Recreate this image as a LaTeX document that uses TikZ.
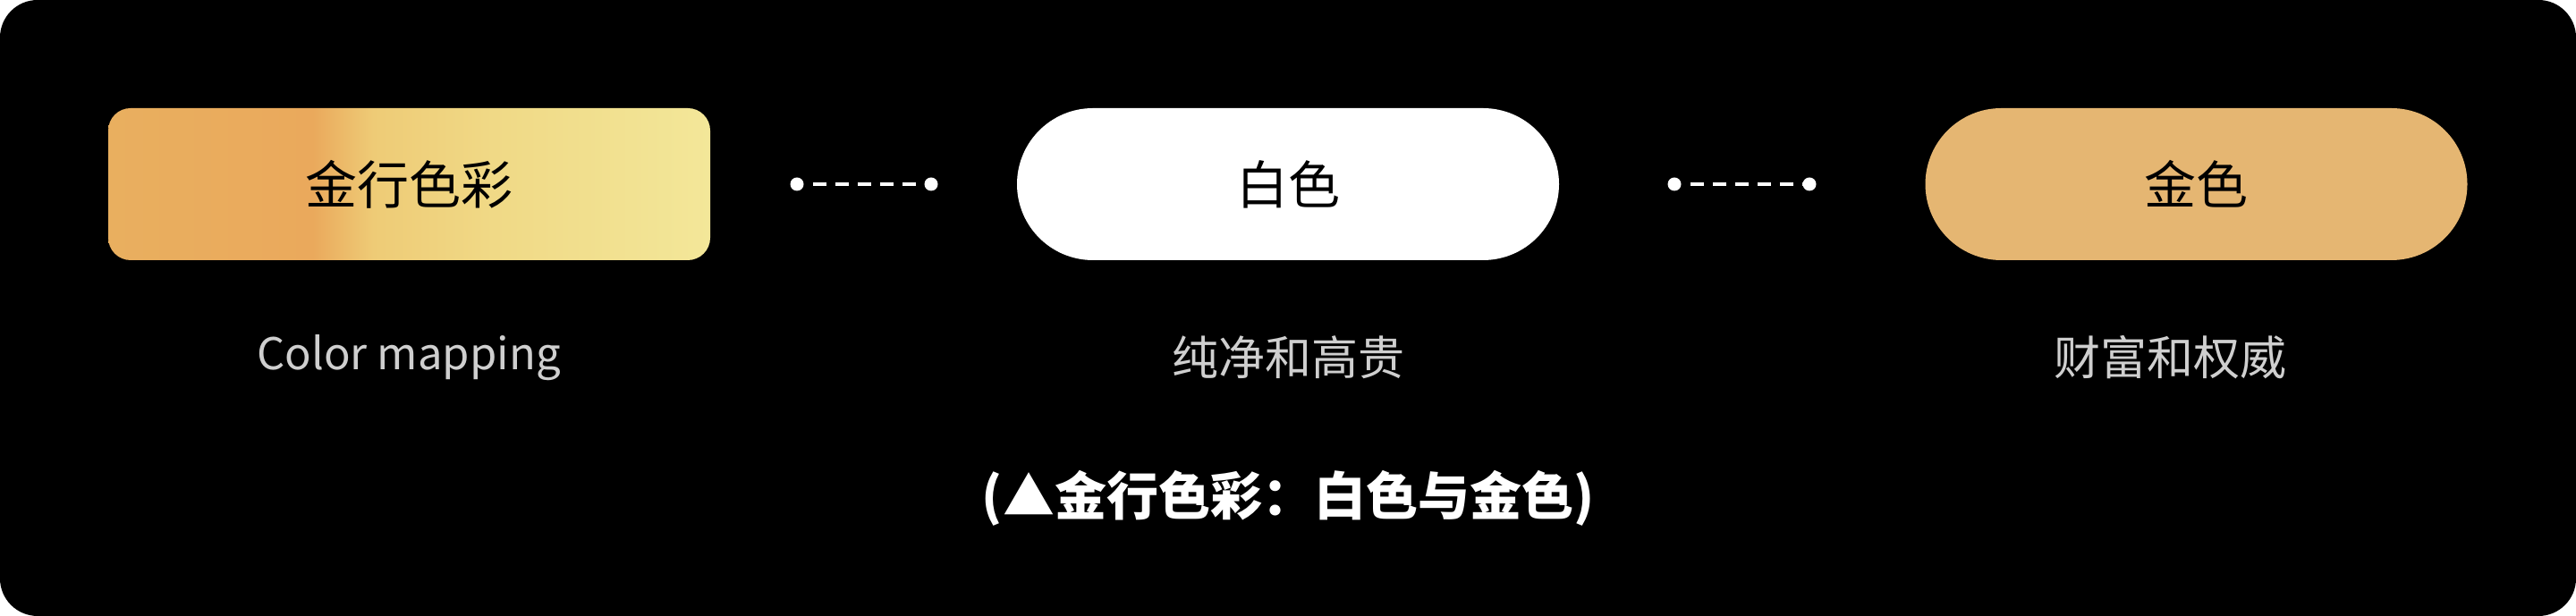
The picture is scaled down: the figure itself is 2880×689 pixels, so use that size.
\documentclass[tikz,border=0pt]{standalone}
\usepackage{fontspec}
\setmainfont{Noto Sans CJK SC}
\usepackage{tikz}

\definecolor{goldbox}{HTML}{E5B672}
\definecolor{notegray}{HTML}{CFCFCF}
\definecolor{gold1}{HTML}{E9AF5F}
\definecolor{gold2}{HTML}{EAA95C}
\definecolor{gold3}{HTML}{EECB76}
\definecolor{gold4}{HTML}{F0D986}
\definecolor{gold5}{HTML}{F3E799}
\pgfdeclarehorizontalshading{goldfade}{100bp}{color(0bp)=(gold1); color(25bp)=(gold1);
  color(42bp)=(gold2); color(47bp)=(gold3); color(57bp)=(gold4); color(75bp)=(gold5); color(100bp)=(gold5)}

\tikzset{
    box/.style={minimum width=303pt,minimum height=85pt,rounded corners=42.5pt,font=\fontsize{29}{29}\selectfont,text=black},
    note/.style={font=\fontsize{26}{26}\selectfont,text=notegray},
    dot/.style={shape=circle,fill=white,minimum size=7.5pt,inner sep=0pt},
    dashline/.style={white,line width=2pt,dash pattern=on 7.5pt off 5pt,dash phase=7.5pt}
}

\begin{document}
\begin{tikzpicture}[x=0.5pt,y=0.5pt]

        \useasboundingbox (0,0) rectangle (2880,689);
        \fill[white] (0,0) rectangle (2880,689);
        \fill[black,rounded corners=21pt] (0,0) rectangle (2880,689);

        \node[box,minimum width=336.5pt,rounded corners=12.5pt,shade,shading=goldfade] (map) at (457.5,483) {金行色彩};
        \node[box,fill=white] (white) at (1440,483) {白色};
        \node[box,fill=goldbox] (gold) at (2455.5,483) {金色};

        \node[note,font=\fontsize{24.5}{24.5}\selectfont] (mapnote) at (457,289) {Color mapping};
        \node[note] (whitenote) at (1440,289) {纯净和高贵};
        \node[note] (goldnote) at (2426,289) {财富和权威};

        \node[dot] (p1) at (891,483) {};
        \node[dot] (p2) at (1041,483) {};
        \node[dot] (p3) at (1872,483) {};
        \node[dot] (p4) at (2023,483) {};

        \path[dashline] (p1) edge (p2);
        \path[dashline] (p3) edge (p4);

        \node[font=\fontsize{29}{29}\selectfont\bfseries,text=white] (caption) at (1440,132) {(▲金行色彩：白色与金色)};

    \end{tikzpicture}
\end{document}
